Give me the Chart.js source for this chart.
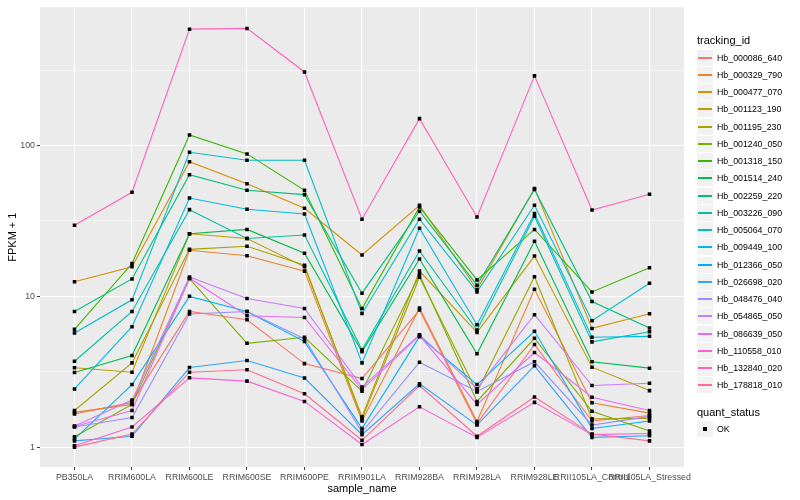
<!DOCTYPE html>
<html>
<head>
<meta charset="utf-8">
<script src="https://cdn.jsdelivr.net/npm/chart.js@4.4.0/dist/chart.umd.min.js"></script>
<style>
    body { margin: 0; background: #fff; font-family: "Liberation Sans", Arial, sans-serif; }
    #wrap { position: relative; width: 800px; height: 500px; }
    #legend { position: absolute; left: 0; top: 0; }
    .lg-title { position: absolute; left: 697px; font-size: 11px; line-height: 13px; color: #000; white-space: nowrap; }
    .lg-key { position: absolute; left: 697px; width: 16px; height: 16px; background: #F2F2F2; }
    .lg-key i { position: absolute; left: 1px; width: 14px; top: 7px; height: 2px; }
    .lg-key b { position: absolute; left: 6px; top: 6px; width: 4px; height: 4px; background: #000; }
    .lg-label { position: absolute; left: 717px; font-size: 8.8px; line-height: 10px; color: #000; white-space: nowrap; }
</style>
</head>
<body>
<div id="wrap">
    <canvas id="fpkmChart" width="800" height="500"></canvas>
    <div id="legend"></div>
</div>
<script>
// samples on the x axis
const categories = ["PB350LA", "RRIM600LA", "RRIM600LE", "RRIM600SE", "RRIM600PE", "RRIM901LA",
    "RRIM928BA", "RRIM928LA", "RRIM928LE", "RRII105LA_Control", "RRII105LA_Stressed"];

// FPKM + 1, one array per transcript
const hb000086_640 = [1.66, 1.98, 7.94, 7.00, 3.58, 2.85, 8.11, 1.43, 4.79, 1.49, 1.62];
const hb000329_790 = [1.70, 1.92, 20.2, 18.6, 14.7, 1.49, 8.36, 1.48, 11.15, 1.97, 1.68];
const hb000477_070 = [12.5, 15.7, 78.1, 55.9, 38.4, 18.8, 40.2, 11.1, 52.0, 6.13, 7.66];
const hb001123_190 = [3.36, 3.14, 26.0, 24.2, 15.7, 1.59, 14.7, 5.77, 18.5, 3.39, 2.37];
const hb001195_230 = [1.75, 3.62, 20.5, 21.5, 16.1, 1.54, 13.4, 2.32, 13.5, 1.54, 1.55];
const hb001240_050 = [1.17, 1.92, 13.1, 4.88, 5.35, 2.35, 13.9, 2.01, 5.27, 1.73, 1.28];
const hb001318_150 = [6.04, 16.5, 117.7, 88.1, 50.5, 8.31, 39.2, 12.85, 27.8, 10.7, 15.5];
const hb001514_240 = [3.13, 4.05, 26.0, 27.8, 19.3, 4.30, 17.7, 4.16, 23.2, 3.68, 3.34];
const hb002259_220 = [7.94, 13.05, 64.1, 50.5, 47.3, 10.5, 36.7, 11.86, 51.2, 9.24, 6.17];
const hb003226_090 = [3.71, 7.94, 37.6, 24.2, 25.5, 4.42, 20.0, 5.98, 34.0, 4.99, 5.83];
const hb005064_070 = [5.72, 9.48, 90.3, 80.0, 80.0, 7.70, 32.5, 10.7, 40.2, 6.89, 12.2];
const hb009449_100 = [2.43, 6.29, 44.9, 37.8, 35.2, 3.62, 28.3, 6.49, 35.4, 5.35, 5.43];
const hb012366_050 = [1.13, 2.60, 10.0, 7.94, 5.01, 1.33, 5.40, 2.60, 5.86, 1.33, 1.49];
const hb026698_020 = [1.10, 1.18, 3.37, 3.75, 2.87, 1.21, 2.63, 1.40, 3.46, 1.16, 1.19];
const hb048476_040 = [1.36, 1.57, 7.63, 7.94, 5.24, 1.26, 3.66, 2.34, 3.68, 1.40, 1.60];
const hb054865_050 = [1.38, 2.05, 13.45, 9.67, 8.31, 2.50, 5.57, 2.44, 7.55, 2.56, 2.65];
const hb086639_050 = [1.37, 1.75, 13.2, 7.43, 7.24, 2.40, 5.51, 1.92, 4.24, 2.14, 1.75];
const hb110558_010 = [1.02, 1.36, 2.88, 2.74, 2.01, 1.04, 1.85, 1.16, 1.98, 1.21, 1.23];
const hb132840_020 = [29.6, 49.0, 592, 599, 308, 32.5, 151, 33.6, 290, 37.4, 47.5];
const hb178818_010 = [1.00, 1.22, 3.14, 3.26, 2.26, 1.11, 2.56, 1.18, 2.15, 1.22, 1.10];

const trackingIds = ["Hb_000086_640", "Hb_000329_790", "Hb_000477_070", "Hb_001123_190", "Hb_001195_230",
    "Hb_001240_050", "Hb_001318_150", "Hb_001514_240", "Hb_002259_220", "Hb_003226_090",
    "Hb_005064_070", "Hb_009449_100", "Hb_012366_050", "Hb_026698_020", "Hb_048476_040",
    "Hb_054865_050", "Hb_086639_050", "Hb_110558_010", "Hb_132840_020", "Hb_178818_010"];
const seriesValues = [hb000086_640, hb000329_790, hb000477_070, hb001123_190, hb001195_230,
    hb001240_050, hb001318_150, hb001514_240, hb002259_220, hb003226_090,
    hb005064_070, hb009449_100, hb012366_050, hb026698_020, hb048476_040,
    hb054865_050, hb086639_050, hb110558_010, hb132840_020, hb178818_010];

// log axis: labelled breaks and the minor ones between them
const yMajorTicks = [1, 10, 100];
const yMinorTicks = [3.162, 31.62, 316.2];

// ggplot default hue palette for 20 groups
const hueColors = ["#F8766D", "#EA8331", "#D89000", "#C09B00", "#A3A500", "#7CAE00", "#39B600", "#00BB4E",
    "#00BF7D", "#00C1A3", "#00BFC4", "#00BAE0", "#00B0F6", "#35A2FF", "#9590FF", "#C77CFF",
    "#E76BF3", "#FA62DB", "#FF62BC", "#FF6C91"];

const fontFamily = '"Liberation Sans", Arial, sans-serif';
Chart.defaults.font.family = fontFamily;

const panelBackground = {
    id: "panelBackground",
    beforeDraw(chart) {
        const { ctx, chartArea: a } = chart;
        ctx.save();
        ctx.fillStyle = "#EBEBEB";
        ctx.fillRect(a.left, a.top, a.right - a.left, a.bottom - a.top);
        ctx.restore();
    }
};

const lineSets = seriesValues.map((vals, k) => ({
    label: trackingIds[k],
    data: vals.map((v, i) => ({ x: i, y: v })),
    borderColor: hueColors[k],
    borderWidth: 1.1,
    pointRadius: 0,
    tension: 0,
    fill: false,
    order: 1 + (seriesValues.length - 1 - k)
}));

const pointSet = {
    label: "OK",
    data: seriesValues.flatMap(vals => vals.map((v, i) => ({ x: i, y: v }))),
    showLine: false,
    pointStyle: "rect",
    pointRadius: 2.5,
    backgroundColor: "#000",
    borderWidth: 0,
    order: 0
};

const isMajor = v => yMajorTicks.includes(v);

new Chart(document.getElementById("fpkmChart"), {
    type: "line",
    data: { datasets: [pointSet, ...lineSets] },
    plugins: [panelBackground],
    options: {
        responsive: false,
        animation: false,
        events: [],
        layout: { padding: { top: 5, right: 116, left: 0, bottom: 0 } },
        plugins: {
            legend: { display: false },
            tooltip: { enabled: false }
        },
        scales: {
            x: {
                type: "linear",
                min: -0.6,
                max: 10.6,
                afterBuildTicks: s => { s.ticks = categories.map((c, i) => ({ value: i })); },
                afterFit: s => { s.height = 33; },
                ticks: {
                    autoSkip: false,
                    maxRotation: 0,
                    minRotation: 0,
                    padding: 2,
                    color: "#4D4D4D",
                    font: { size: 8.8 },
                    callback: v => categories[v]
                },
                grid: { color: "#FFFFFF", lineWidth: 1.07, tickColor: "#333333", tickLength: 3, tickWidth: 1 },
                border: { display: false },
                title: { display: true, text: "sample_name", color: "#000", font: { size: 11 }, padding: { top: 0, bottom: 4.4 } }
            },
            y: {
                type: "logarithmic",
                min: 0.738,
                max: 827,
                bounds: "data",
                afterBuildTicks: s => {
                    s.ticks = yMajorTicks.concat(yMinorTicks).sort((a, b) => a - b).map(v => ({ value: v }));
                },
                afterFit: s => { s.width = 40; },
                ticks: {
                    padding: 2,
                    color: "#4D4D4D",
                    font: { size: 8.8 },
                    callback: v => isMajor(v) ? String(v) : ""
                },
                grid: {
                    color: "#FFFFFF",
                    lineWidth: c => isMajor(c.tick.value) ? 1.07 : 0.53,
                    tickColor: c => isMajor(c.tick.value) ? "#333333" : "rgba(0,0,0,0)",
                    tickLength: 3,
                    tickWidth: 1
                },
                border: { display: false },
                title: { display: true, text: "FPKM + 1", color: "#000", font: { size: 11 }, padding: { top: 6, bottom: 0 } }
            }
        }
    }
});

// legend, ggplot style
const legend = document.getElementById("legend");
function addEl(cls, top, html) {
    const el = document.createElement("div");
    el.className = cls;
    el.style.top = top + "px";
    el.innerHTML = html || "";
    legend.appendChild(el);
    return el;
}
addEl("lg-title", 34).textContent = "tracking_id";
trackingIds.forEach((id, k) => {
    const cy = Math.round(57.7 + k * 17.25);
    const key = addEl("lg-key", cy - 8, "<i></i>");
    key.firstChild.style.backgroundColor = hueColors[k];
    addEl("lg-label", cy - 5).textContent = id;
});
addEl("lg-title", 406).textContent = "quant_status";
addEl("lg-key", 421, "<b></b>");
addEl("lg-label", 424).textContent = "OK";
</script>
</body>
</html>
